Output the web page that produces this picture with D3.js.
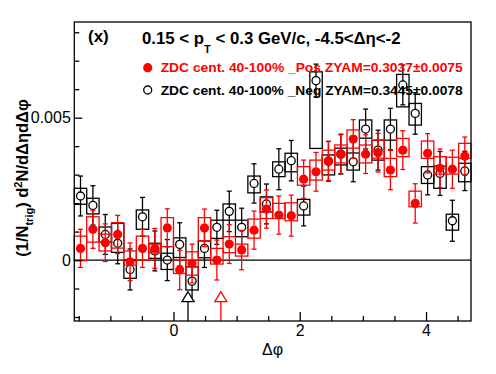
<!DOCTYPE html>
<html>
<head>
<meta charset="utf-8">
<script src="https://cdn.jsdelivr.net/npm/d3@7"></script>
<style>
body{margin:0;background:#fff;}
svg{display:block;font-family:"Liberation Sans",Arial,Helvetica,sans-serif;}
</style>
</head>
<body>
<svg id="chart" width="496" height="374"></svg>
<script>
// 32 bins of delta phi, from -pi/2 to 3pi/2
const nBins = 32;
const phiMin = -Math.PI/2, phiMax = 3*Math.PI/2;

// ZDC cent. 40-100% _Pos (red, filled)
const posVal = [0.00041,0.00108,0.00061,0.00090,-0.00006,0.00041,0.00041,0.00113,-0.00035,-0.00012,0.00113,0.00000,0.00056,0.00035,0.00105,0.00179,
                0.00158,0.00156,0.00284,0.00310,0.00348,0.00372,0.00425,0.00372,0.00377,0.00316,0.00386,0.00199,0.00375,0.00322,0.00319,0.00365];
const posErr = [0.00067,0.00067,0.00066,0.00067,0.00066,0.00067,0.00070,0.00067,0.00069,0.00068,0.00066,0.00070,0.00068,0.00069,0.00067,0.00067,
                0.00067,0.00072,0.00067,0.00068,0.00068,0.00068,0.00068,0.00068,0.00068,0.00069,0.00068,0.00069,0.00069,0.00068,0.00067,0.00067];
const posSysLo = [-0.00002,0.00063,0.00032,0.00042,-0.00018,0.00000,0.00025,0.00047,-0.00047,-0.00053,0.00067,-0.00014,0.00026,0.00014,0.00077,0.00146,
                  0.00146,0.00138,0.00263,0.00281,0.00316,0.00341,0.00393,0.00341,0.00358,0.00293,0.00363,0.00187,0.00357,0.00302,0.00302,0.00357];
const posSysHi = [0.00084,0.00152,0.00091,0.00131,0.00032,0.00084,0.00056,0.00149,0.00000,0.00029,0.00149,0.00041,0.00082,0.00056,0.00144,0.00219,
                  0.00199,0.00201,0.00328,0.00351,0.00386,0.00404,0.00457,0.00404,0.00421,0.00357,0.00427,0.00242,0.00418,0.00363,0.00361,0.00410];

// ZDC cent. 40-100% _Neg (black, open)
const negVal = [0.00225,0.00192,0.00090,0.00059,-0.00033,0.00152,0.00032,0.00000,0.00055,-0.00074,0.00041,0.00115,0.00171,0.00115,0.00269,0.00197,
                0.00319,0.00349,0.00190,0.00630,0.00347,0.00372,0.00345,0.00460,0.00386,0.00460,0.00615,0.00515,0.00299,0.00304,0.00138,0.00313];
const negErr = [0.00070,0.00069,0.00070,0.00072,0.00072,0.00068,0.00070,0.00072,0.00076,0.00070,0.00067,0.00060,0.00071,0.00067,0.00069,0.00070,
                0.00072,0.00071,0.00070,0.00058,0.00070,0.00070,0.00070,0.00070,0.00070,0.00073,0.00070,0.00073,0.00070,0.00077,0.00072,0.00069];
const negSysLo = [0.00196,0.00162,0.00063,0.00027,-0.00064,0.00108,0.00006,-0.00033,0.00009,-0.00105,0.00008,0.00076,0.00140,0.00082,0.00236,0.00169,
                  0.00293,0.00310,0.00158,0.00392,0.00299,0.00334,0.00316,0.00428,0.00351,0.00421,0.00538,0.00474,0.00269,0.00252,0.00105,0.00275];
const negSysHi = [0.00252,0.00217,0.00116,0.00129,0.00000,0.00176,0.00059,0.00024,0.00078,-0.00024,0.00067,0.00140,0.00197,0.00140,0.00295,0.00222,
                  0.00345,0.00375,0.00213,0.00661,0.00369,0.00393,0.00376,0.00492,0.00421,0.00492,0.00652,0.00550,0.00328,0.00330,0.00161,0.00340];

// arrows (open head) marking positions on delta phi
const arrowPhi = [0.23, 0.75];
const arrowColor = ['#000', '#f00'];
const arrowTip = -0.00111;

const xMajor = [0, 2, 4];
const xMinor = [-1.5,-1,-0.5,0.5,1,1.5,2.5,3,3.5,4.5];
const yMajor = [0, 0.005];
const yMinor = [-0.002,-0.001,0.001,0.002,0.003,0.004,0.006,0.007,0.008];

const legendText = ['ZDC cent. 40-100% _Pos ZYAM=0.3037\u00b10.0075', 'ZDC cent. 40-100% _Neg ZYAM=0.3445\u00b10.0078'];

const width = 496, height = 374;
const margin = {left: 74.3, right: 25, top: 22, bottom: 53};
const red = '#ff0000', black = '#000000';
const lw = 1.3;

const svg = d3.select('#chart');
svg.append('rect').attr('width', width).attr('height', height).attr('fill', '#fff');

const x = d3.scaleLinear().domain([phiMin, phiMax]).range([margin.left, width - margin.right]);
const y = d3.scaleLinear().domain([-0.00214, 0.00836]).range([height - margin.bottom, margin.top]);

const binW = (phiMax - phiMin) / nBins;
const bins = d3.range(nBins).map(i => ({
	lo: phiMin + i*binW,
	hi: phiMin + (i+1)*binW,
	c: phiMin + (i+0.5)*binW
}));

const plot = svg.append('g');

// zero line
plot.append('line')
	.attr('x1', x(phiMin)).attr('x2', x(phiMax))
	.attr('y1', y(0)).attr('y2', y(0))
	.attr('stroke', black).attr('stroke-width', lw);

function drawSeries(vals, errs, sysLo, sysHi, color, filled){
	let g = plot.append('g');
	// systematic boxes
	g.selectAll('rect.sys').data(bins).enter().append('rect')
		.attr('x', d => x(d.lo))
		.attr('width', d => x(d.hi) - x(d.lo))
		.attr('y', (d, i) => y(sysHi[i]))
		.attr('height', (d, i) => y(sysLo[i]) - y(sysHi[i]))
		.attr('fill', 'none')
		.attr('stroke', color).attr('stroke-width', lw);
	let r = filled ? 4.6 : 4;
	// error bars, kept out of the marker
	bins.forEach((d, i) => {
		let cx = x(d.c);
		let cy = y(vals[i]);
		let yt = y(vals[i] + errs[i]);
		let yb = y(vals[i] - errs[i]);
		g.append('line').attr('x1', cx).attr('x2', cx).attr('y1', yt).attr('y2', cy - r)
			.attr('stroke', color).attr('stroke-width', lw);
		g.append('line').attr('x1', cx).attr('x2', cx).attr('y1', cy + r).attr('y2', yb)
			.attr('stroke', color).attr('stroke-width', lw);
		g.append('line').attr('x1', cx - 2.5).attr('x2', cx + 2.5).attr('y1', yt).attr('y2', yt)
			.attr('stroke', color).attr('stroke-width', lw);
		g.append('line').attr('x1', cx - 2.5).attr('x2', cx + 2.5).attr('y1', yb).attr('y2', yb)
			.attr('stroke', color).attr('stroke-width', lw);
	});
	g.selectAll('circle').data(bins).enter().append('circle')
		.attr('cx', d => x(d.c))
		.attr('cy', (d, i) => y(vals[i]))
		.attr('r', r)
		.attr('fill', filled ? color : 'none')
		.attr('stroke', color).attr('stroke-width', filled ? 0 : lw);
}

drawSeries(negVal, negErr, negSysLo, negSysHi, black, false);
drawSeries(posVal, posErr, posSysLo, posSysHi, red, true);

// arrows
arrowPhi.forEach((p, i) => {
	let ax = x(p);
	let yBase = y(arrowTip) + 10;
	svg.append('line').attr('x1', ax).attr('x2', ax).attr('y1', y.range()[0]).attr('y2', yBase)
		.attr('stroke', arrowColor[i]).attr('stroke-width', lw);
	svg.append('path')
		.attr('d', `M${ax},${y(arrowTip)} L${ax-6},${yBase} L${ax+6},${yBase} Z`)
		.attr('fill', '#fff').attr('stroke', arrowColor[i]).attr('stroke-width', lw);
});

// axes, ticks pointing inside
const yBottom = y.range()[0];
svg.append('g').attr('transform', `translate(0,${yBottom})`)
	.call(d3.axisBottom(x).tickValues(xMajor).tickSize(-9).tickSizeOuter(0).tickPadding(4).tickFormat(d3.format('d')));
svg.append('g').attr('transform', `translate(0,${yBottom})`)
	.call(d3.axisBottom(x).tickValues(xMinor).tickSize(-5).tickSizeOuter(0).tickFormat(''));
svg.append('g').attr('transform', `translate(${margin.left},0)`)
	.call(d3.axisLeft(y).tickValues(yMajor).tickSize(-8).tickSizeOuter(0).tickPadding(3.5).tickFormat(d => d === 0 ? '0' : d3.format('.3f')(d)));
svg.append('g').attr('transform', `translate(${margin.left},0)`)
	.call(d3.axisLeft(y).tickValues(yMinor).tickSize(-5).tickSizeOuter(0).tickFormat(''));
svg.selectAll('.domain').remove();
svg.selectAll('.tick line').attr('stroke', black).attr('stroke-width', lw);
svg.selectAll('.tick text').attr('font-size', '16px').attr('fill', black).attr('font-family', '"Liberation Sans",Arial,sans-serif');

// frame
svg.append('rect')
	.attr('x', margin.left).attr('y', margin.top)
	.attr('width', width - margin.left - margin.right)
	.attr('height', height - margin.top - margin.bottom)
	.attr('fill', 'none').attr('stroke', black).attr('stroke-width', lw);

// axis titles
svg.append('text').attr('x', (margin.left + width - margin.right)/2).attr('y', 355)
	.attr('text-anchor', 'middle').attr('font-size', '16px').text('\u0394\u03c6');

const yt = svg.append('text')
	.attr('transform', 'translate(28,178) rotate(-90)')
	.attr('text-anchor', 'middle').attr('font-size', '16.5px').attr('font-weight', 'bold');
yt.append('tspan').text('(1/N');
yt.append('tspan').attr('font-size', '11px').attr('dy', 5).text('trig');
yt.append('tspan').attr('dy', -5).text(') d');
yt.append('tspan').attr('font-size', '11px').attr('dy', -6).text('2');
yt.append('tspan').attr('dy', 6).text('N/d\u0394\u03b7d\u0394\u03c6');

// label and title
svg.append('text').attr('x', 88).attr('y', 42).attr('font-size', '17px').attr('font-weight', 'bold').text('(x)');
const tt = svg.append('text').attr('x', 142).attr('y', 43.5).attr('font-size', '16.8px').attr('font-weight', 'bold');
tt.append('tspan').text('0.15 < p');
tt.append('tspan').attr('font-size', '11px').attr('dy', 9).text('T');
tt.append('tspan').attr('dy', -9).text(' < 0.3 GeV/c, -4.5<\u0394\u03b7<-2');

// legend
const legY = [67.7, 90];
const legColor = [red, black];
legY.forEach((ly, i) => {
	svg.append('circle').attr('cx', 147.7).attr('cy', ly).attr('r', i === 0 ? 4.6 : 4)
		.attr('fill', i === 0 ? red : 'none').attr('stroke', legColor[i]).attr('stroke-width', i === 0 ? 0 : lw);
	svg.append('text').attr('x', 160.7).attr('y', ly + 4.5)
		.attr('font-size', '13px').attr('font-weight', 'bold').attr('fill', legColor[i])
		.attr('textLength', 302).attr('lengthAdjust', 'spacingAndGlyphs')
		.text(legendText[i]);
});
</script>
</body>
</html>
